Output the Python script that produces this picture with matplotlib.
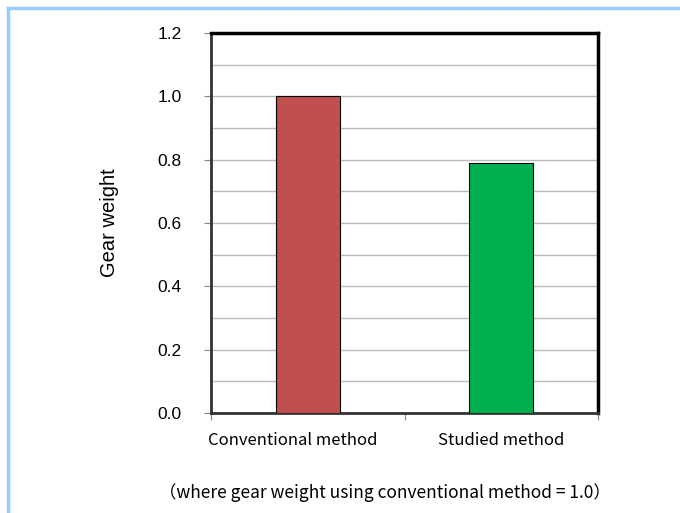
import matplotlib.pyplot as plt
from matplotlib.lines import Line2D
from matplotlib.transforms import ScaledTranslation
import numpy as np

# data
categories = ['Conventional method', 'Studied method']
weights = [1.0, 0.79]
colors = ['#C0504D', '#00B050']
yticks = [0.0, 0.2, 0.4, 0.6, 0.8, 1.0, 1.2]

W, H = 680, 513
fig = plt.figure(figsize=(W / 100, H / 100), dpi=100)

# light blue frame of the page
fig.add_artist(Line2D([8 / W, 1], [1 - 8 / H, 1 - 8 / H], color='#99CCFF', lw=2.5))
fig.add_artist(Line2D([8 / W, 8 / W], [0, 1 - 8 / H], color='#99CCFF', lw=2.5))

ax = fig.add_axes([211 / W, 1 - 413 / H, 387 / W, 380 / H])

x = np.arange(len(categories))
ax.bar(x, weights, width=0.33, color=colors, edgecolor='black', linewidth=0.8, zorder=3)

ax.set_xlim(-0.5, 1.5)
ax.set_ylim(0, 1.2)

# grid every 0.1, ticks every 0.2
for g in np.arange(0.1, 1.2, 0.1):
    ax.axhline(g, color='#BBBBBB', lw=1.0, zorder=1)

ax.set_yticks(yticks)
ax.set_yticklabels([f'{v:.1f}' for v in yticks], fontsize=12.5, family='Liberation Sans')
ax.tick_params(axis='y', direction='out', length=5, color='#888888', pad=16)

ax.set_xticks([-0.5, 0.5, 1.5])
ax.set_xticklabels([])
ax.set_xticks(x, minor=True)
ax.set_xticklabels(categories, minor=True, fontsize=12, family=['Noto Sans CJK JP', 'DejaVu Sans'])
ax.tick_params(axis='x', which='major', direction='out', length=5, color='#888888')
ax.tick_params(axis='x', which='minor', length=0, pad=14)
# the first label sits a bit left of its bar in the original
lab = ax.get_xticklabels(minor=True)[0]
lab.set_transform(lab.get_transform() + ScaledTranslation(-0.15, 0, fig.dpi_scale_trans))

ax.spines['top'].set_linewidth(2.5)
ax.spines['right'].set_linewidth(2.5)
ax.spines['top'].set_color('black')
ax.spines['right'].set_color('black')
ax.spines['left'].set_linewidth(2)
ax.spines['left'].set_color('#333333')
ax.spines['bottom'].set_linewidth(2)
ax.spines['bottom'].set_color('#333333')

ax.set_ylabel('Gear weight', fontsize=14.5, family='Liberation Sans', labelpad=28)

fig.text(385 / W, 1 - 493 / H, '（where gear weight using conventional method = 1.0）',
         ha='center', va='center', fontsize=12.5, family=['Noto Sans CJK JP', 'DejaVu Sans'])

fig.savefig('out.png', dpi=100)
